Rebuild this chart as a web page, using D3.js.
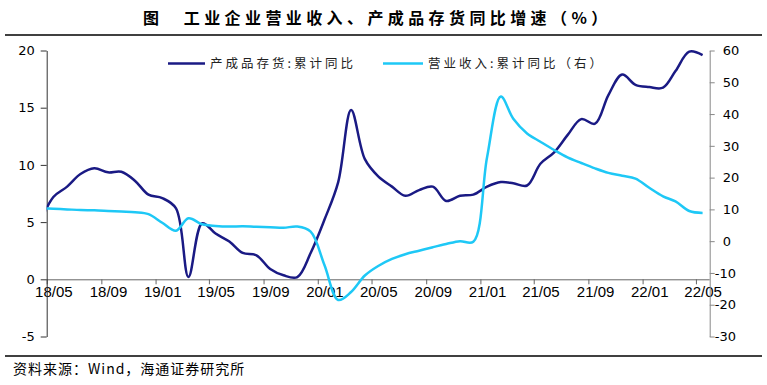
<!DOCTYPE html>
<html>
<head>
<meta charset="utf-8">
<script src="https://cdn.jsdelivr.net/npm/d3@7"></script>
<style>
  body { margin: 0; background: #fff; }
  svg { display: block; }
  .cn  { font-family: "Noto Sans CJK SC", sans-serif; }
  .num { font-family: "DejaVu Sans", sans-serif; }
</style>
</head>
<body>
<div id="chart"></div>
<script>
// monthly points, first one sits left of the axis and gets clipped
const months = [
  "18/04","18/05","18/06","18/07","18/08","18/09","18/10","18/11","18/12",
  "19/01","19/02","19/03","19/04","19/05","19/06","19/07","19/08","19/09","19/10","19/11","19/12",
  "20/01","20/02","20/03","20/04","20/05","20/06","20/07","20/08","20/09","20/10","20/11","20/12",
  "21/01","21/02","21/03","21/04","21/05","21/06","21/07","21/08","21/09","21/10","21/11","21/12",
  "22/01","22/02","22/03","22/04","22/05"
];
// 产成品存货:累计同比 (left axis)
const inventory = [
  4.9, 7.2, 8.1, 9.2, 9.7, 9.35, 9.4, 8.6, 7.4,
  7.1, 6.2, 0.2, 4.9, 4.0, 3.3, 2.3, 2.1, 0.9, 0.35, 0.2, 2.3,
  5.2, 8.5, 14.8, 10.5, 9.0, 8.1, 7.3, 7.8, 8.1, 6.85, 7.3, 7.4,
  8.1, 8.5, 8.4, 8.2, 10.1, 11.1, 12.6, 14.0, 13.6, 16.1, 17.9, 17.0,
  16.8, 16.75, 18.2, 19.9, 19.6
];
// 营业收入:累计同比 (right axis)
const revenue = [
  10.4, 10.2, 10.0, 9.8, 9.7, 9.5, 9.3, 9.1, 8.5,
  5.8, 3.3, 7.2, 5.3, 4.8, 4.6, 4.7, 4.5, 4.4, 4.2, 4.6, 3.0,
  -7.5, -18.5, -16.0, -10.8, -7.8, -5.6, -4.1, -3.0, -1.9, -0.9, 0.0, -0.2,
  26.4, 45.5, 38.5, 33.9, 31.3, 28.7, 26.4, 24.6, 22.9, 21.5, 20.6, 19.7,
  16.8, 14.1, 12.5, 9.5, 8.9
];
const xTickLabels = ["18/05","18/09","19/01","19/05","19/09","20/01","20/05","20/09","21/01","21/05","21/09","22/01","22/05"];
const leftTicks  = [-5, 0, 5, 10, 15, 20];
const rightTicks = [-30, -20, -10, 0, 10, 20, 30, 40, 50, 60];

(function() {
  const W = 767, H = 385;
  const plotL = 46.7, plotR = 709.7, plotT = 50.5, plotB = 336.5;

  const parse = d3.timeParse("%y/%m");
  const mid = d => new Date(d.getFullYear(), d.getMonth(), 16);

  const x = d3.scaleTime()
    .domain([parse("18/05"), parse("22/06")])
    .range([plotL, plotR]);
  const yL = d3.scaleLinear().domain([-5, 20]).range([plotB, plotT]);
  const yR = d3.scaleLinear().domain([-30, 60]).range([plotB, plotT]);

  const svg = d3.select("#chart").append("svg")
    .attr("width", W).attr("height", H);

  svg.append("defs").append("clipPath").attr("id", "plot")
    .append("rect").attr("x", plotL).attr("y", 0).attr("width", W - plotL).attr("height", H);

  // title + rules
  svg.append("text").attr("class", "cn")
    .attr("x", 143).attr("y", 24)
    .style("font-size", "16px").style("font-weight", "bold").style("letter-spacing", "4.4px")
    .text("图　工业企业营业收入、产成品存货同比增速（%）");
  svg.append("line").attr("x1", 5).attr("x2", 762).attr("y1", 35).attr("y2", 35)
    .attr("stroke", "#000").attr("stroke-width", 1.5);
  svg.append("line").attr("x1", 5).attr("x2", 762).attr("y1", 356).attr("y2", 356)
    .attr("stroke", "#000").attr("stroke-width", 1.5);
  svg.append("text").attr("class", "cn")
    .attr("x", 13).attr("y", 374)
    .style("font-size", "14px").style("letter-spacing", "1px")
    .text("资料来源：Wind，海通证券研究所");

  // plain hyphen for negatives, like the source
  const fmt = d => String(d);

  // x axis on the left zero line, labels centred in their month
  const halfMonth = x(mid(parse("18/05"))) - x(parse("18/05"));
  const xAxis = svg.append("g")
    .attr("transform", `translate(0,${yL(0)})`)
    .call(d3.axisBottom(x)
      .tickValues(xTickLabels.map(parse))
      .tickFormat(d3.timeFormat("%y/%m"))
      .tickSize(5).tickSizeOuter(0));
  xAxis.select(".domain").attr("stroke", "#666").attr("d", `M${plotL},0.5H${plotR}`);
  xAxis.selectAll(".tick line").attr("stroke", "#666");
  xAxis.selectAll(".tick text")
    .attr("dx", halfMonth).attr("y", 7).attr("dy", "0.71em")
    .attr("fill", "#000")
    .style("font-family", "'Liberation Sans', Arial, sans-serif").style("font-size", "15px");

  // left axis
  const ya = svg.append("g")
    .attr("transform", `translate(${plotL},0)`)
    .call(d3.axisLeft(yL).tickValues(leftTicks).tickFormat(fmt).tickSize(6).tickSizeOuter(0));
  ya.select(".domain").attr("stroke", "#333");
  ya.selectAll(".tick line").attr("stroke", "#333");
  ya.selectAll(".tick text").attr("class", "num").attr("x", -12)
    .attr("fill", "#000").style("font-size", "13px");

  // right axis
  const yb = svg.append("g")
    .attr("transform", `translate(${plotR},0)`)
    .call(d3.axisRight(yR).tickValues(rightTicks).tickFormat(fmt).tickSize(5).tickSizeOuter(0));
  yb.select(".domain").attr("stroke", "#888");
  yb.selectAll(".tick line").attr("stroke", "#888");
  yb.selectAll(".tick text").attr("class", "num").attr("x", d => d < 0 ? 5 : 13)
    .attr("fill", "#000").style("font-size", "13px");

  // series
  const dates = months.map(m => mid(parse(m)));
  const series = [
    { values: inventory, y: yL, color: "#1a1a84" },
    { values: revenue,   y: yR, color: "#1ec8f6" }
  ];
  const g = svg.append("g").attr("clip-path", "url(#plot)");
  series.forEach(s => {
    const line = d3.line()
      .x((d, i) => x(dates[i]))
      .y(d => s.y(d))
      .curve(d3.curveCatmullRom.alpha(0.5));
    g.append("path")
      .datum(s.values)
      .attr("fill", "none")
      .attr("stroke", s.color)
      .attr("stroke-width", 2.5)
      .attr("stroke-linejoin", "round")
      .attr("d", line);
  });

  // legend
  const legend = [
    { label: "产成品存货:累计同比", color: "#1a1a84", x0: 168, x1: 205, tx: 210 },
    { label: "营业收入:累计同比（右）", color: "#1ec8f6", x0: 383, x1: 423, tx: 428 }
  ];
  legend.forEach(l => {
    svg.append("line").attr("x1", l.x0).attr("x2", l.x1).attr("y1", 63.5).attr("y2", 63.5)
      .attr("stroke", l.color).attr("stroke-width", 2.5);
    svg.append("text").attr("class", "cn")
      .attr("x", l.tx).attr("y", 68)
      .style("font-size", "12.5px").style("letter-spacing", "3px").attr("fill", "#222")
      .text(l.label);
  });
})();
</script>
</body>
</html>
